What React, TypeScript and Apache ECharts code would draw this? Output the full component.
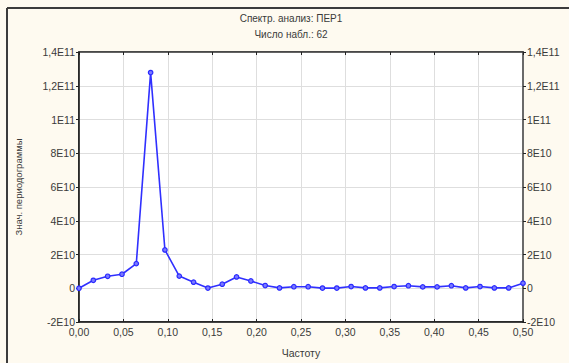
import React, { useEffect, useRef } from "react";
import * as echarts from "echarts";

const titleLines = ["Спектр. анализ: ПЕР1", "Число набл.: 62"];
const xName = "Частоту";
const yName = "Знач. периодограммы";

const frequencies = [
  0, 0.01613, 0.03226, 0.04839, 0.06452, 0.08065, 0.09677, 0.1129, 0.12903,
  0.14516, 0.16129, 0.17742, 0.19355, 0.20968, 0.22581, 0.24194, 0.25806,
  0.27419, 0.29032, 0.30645, 0.32258, 0.33871, 0.35484, 0.37097, 0.3871,
  0.40323, 0.41935, 0.43548, 0.45161, 0.46774, 0.48387, 0.5,
];

const periodogram = [
  0.0e9, 4.7e9, 7.1e9, 8.3e9, 14.6e9, 127.8e9, 22.7e9, 7.2e9, 3.6e9, 0.1e9,
  2.4e9, 6.7e9, 4.3e9, 1.6e9, 0.2e9, 0.9e9, 0.9e9, 0.1e9, 0.1e9, 1.0e9, 0.2e9,
  0.2e9, 1.0e9, 1.5e9, 0.8e9, 0.8e9, 1.5e9, 0.2e9, 1.0e9, 0.2e9, 0.2e9, 3.0e9,
];

const yMin = -2e10;
const yMax = 1.4e11;
const yStep = 2e10;
const xMin = 0;
const xMax = 0.5;
const xStep = 0.05;

function fmtY(v: number): string {
  if (Math.abs(v) < 1) return "0";
  const sign = v < 0 ? "-" : "";
  const a = Math.abs(v);
  const e = Math.floor(Math.log10(a) + 1e-9);
  let m = a / Math.pow(10, e);
  m = Math.round(m * 10) / 10;
  const ms = Number.isInteger(m) ? String(m) : m.toFixed(1).replace(".", ",");
  return sign + ms + "E" + e;
}

function fmtX(v: number): string {
  return v.toFixed(2).replace(".", ",");
}

const FONT = "Liberation Sans, Arial, sans-serif";
const TXT = "#3a3a3a";

export default function App() {
  const ref = useRef<HTMLDivElement>(null);
  useEffect(() => {
    if (!ref.current) return;
    const chart = echarts.init(ref.current, undefined, { renderer: "svg" });
    const data = frequencies.map((f, i) => [f, periodogram[i]]);
    const yCommon = {
      type: "value" as const,
      min: yMin,
      max: yMax,
      interval: yStep,
      axisLabel: {
        formatter: fmtY,
        color: TXT,
        fontSize: 10.5,
        fontFamily: FONT,
        margin: 4,
      },
      axisTick: { show: true, length: 3, inside: false, lineStyle: { color: "#222" } },
    };
    chart.setOption({
      animation: false,
      backgroundColor: "#fefaf0",
      graphic: [
        {
          type: "line",
          shape: { x1: 7, y1: 8, x2: 569, y2: 8 },
          style: { stroke: "#3c3c3c", lineWidth: 2 },
        },
        {
          type: "line",
          shape: { x1: 7, y1: 8, x2: 7, y2: 363 },
          style: { stroke: "#3c3c3c", lineWidth: 2 },
        },
        {
          type: "text",
          x: 291,
          y: 18,
          style: {
            text: titleLines[0],
            align: "center",
            verticalAlign: "middle",
            fill: TXT,
            font: "10px " + FONT,
          },
        },
        {
          type: "text",
          x: 291,
          y: 34,
          style: {
            text: titleLines[1],
            align: "center",
            verticalAlign: "middle",
            fill: TXT,
            font: "10px " + FONT,
          },
        },
      ],
      grid: {
        left: 79,
        right: 46,
        top: 52,
        bottom: 40,
        show: true,
        backgroundColor: "#ffffff",
        borderColor: "#4a4a4a",
        borderWidth: 1.5,
      },
      xAxis: [
        {
          type: "value",
          min: xMin,
          max: xMax,
          interval: xStep,
          position: "bottom",
          name: xName,
          nameLocation: "middle",
          nameGap: 25,
          nameTextStyle: { color: TXT, fontSize: 10.5, fontFamily: FONT },
          axisLine: { show: true, onZero: false, lineStyle: { color: "#111", width: 1.5 } },
          axisTick: { show: true, inside: true, length: 3, lineStyle: { color: "#222" } },
          axisLabel: { formatter: fmtX, color: TXT, fontSize: 10.5, fontFamily: FONT, margin: 4 },
          splitLine: { show: true, lineStyle: { color: "#dedede", width: 1 } },
        },
        {
          type: "value",
          min: xMin,
          max: xMax,
          interval: xStep,
          position: "top",
          axisLine: { show: true, onZero: false, lineStyle: { color: "#3a3a3a", width: 1.5 } },
          axisTick: { show: true, inside: true, length: 3, lineStyle: { color: "#222" } },
          axisLabel: { show: false },
          splitLine: { show: false },
        },
      ],
      yAxis: [
        {
          ...yCommon,
          position: "left",
          name: yName,
          nameLocation: "middle",
          nameRotate: 90,
          nameGap: 56,
          nameTextStyle: { color: TXT, fontSize: 9.5, fontFamily: FONT },
          axisLine: { show: true, onZero: false, lineStyle: { color: "#111", width: 1.5 } },
          splitLine: { show: true, lineStyle: { color: "#dedede", width: 1 } },
        },
        {
          ...yCommon,
          position: "right",
          axisLine: { show: true, onZero: false, lineStyle: { color: "#6a6a6a", width: 2 } },
          splitLine: { show: false },
        },
      ],
      series: [
        {
          type: "line",
          data,
          xAxisIndex: 0,
          yAxisIndex: 0,
          symbol: "circle",
          symbolSize: 4.5,
          showSymbol: true,
          lineStyle: { color: "#3030ff", width: 1.6 },
          itemStyle: { color: "#7a7aff", borderColor: "#2a2aff", borderWidth: 1.2 },
          emphasis: { disabled: true },
        },
      ],
    });
    return () => chart.dispose();
  }, []);
  return (
    <div
      ref={ref}
      style={{ position: "fixed", left: 0, top: 0, width: 569, height: 363 }}
    />
  );
}
